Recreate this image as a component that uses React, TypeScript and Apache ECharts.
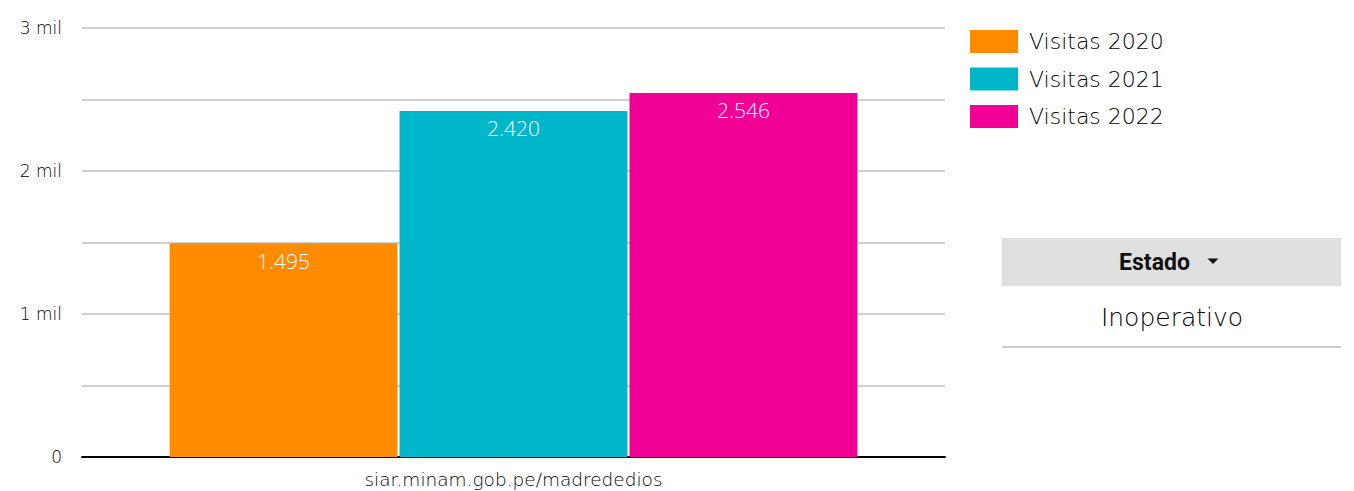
import React, { useEffect, useRef } from "react";
import * as echarts from "echarts";

const categories = ["siar.minam.gob.pe/madrededios"];
const seriesNames = ["Visitas 2020", "Visitas 2021", "Visitas 2022"];
const visitas2020 = [1495];
const visitas2021 = [2420];
const visitas2022 = [2546];
const seriesValues = [visitas2020, visitas2021, visitas2022];
const seriesColors = ["#ff8c00", "#00b6cb", "#f10096"];
const tableHeader = "Estado";
const tableValue = "Inoperativo";

const FONT = "'DejaVu Sans', 'Open Sans', sans-serif";
const NUMFONT = "'Open Sans', 'Noto Sans', sans-serif";

function fmtThousands(v: number): string {
  return String(Math.round(v)).replace(/\B(?=(\d{3})+(?!\d))/g, ".");
}

export default function App() {
  const ref = useRef<HTMLDivElement>(null);
  useEffect(() => {
    if (!ref.current) return;
    const chart = echarts.init(ref.current, null, { renderer: "svg" });
    chart.setOption({
      animation: false,
      backgroundColor: "#ffffff",
      textStyle: { fontFamily: FONT },
      grid: { left: 82, right: 409, top: 28, bottom: 34, containLabel: false },
      legend: {
        orient: "vertical",
        left: 965,
        top: 25,
        itemWidth: 48,
        itemHeight: 23,
        itemGap: 14.5,
        icon: "rect",
        data: seriesNames,
        textStyle: { fontSize: 22, lineHeight: 23, fontWeight: 200, color: "#000", fontFamily: FONT, padding: [0, 0, 0, 6] },
      },
      xAxis: {
        type: "category",
        data: categories,
        axisLine: { lineStyle: { color: "#000", width: 2 } },
        axisTick: { show: false },
        axisLabel: { fontSize: 18.5, fontWeight: 200, color: "#000", margin: 13, fontFamily: FONT },
      },
      yAxis: {
        type: "value",
        min: 0,
        max: 3000,
        interval: 500,
        axisLine: { show: false },
        axisTick: { show: false },
        splitLine: { lineStyle: { color: "#d0d0d0", width: 2 } },
        axisLabel: {
          fontSize: 17,
          fontWeight: 200,
          color: "#000",
          margin: 20,
          fontFamily: FONT,
          formatter: (v: number) => {
            if (v === 0) return "0";
            if (v % 1000 !== 0) return "";
            return v / 1000 + " mil";
          },
        },
      },
      series: seriesNames.map((name, i) => ({
        name,
        type: "bar",
        data: seriesValues[i],
        barCategoryGap: "20.3%",
        barGap: "0.9%",
        itemStyle: { color: seriesColors[i] },
        label: {
          show: true,
          position: "insideTop",
          distance: 7,
          color: "#fff",
          fontSize: 21,
          fontWeight: 300,
          fontFamily: NUMFONT,
          formatter: (p: any) => fmtThousands(p.value),
        },
      })),
      graphic: [
        {
          type: "rect",
          shape: { x: 1002, y: 238, width: 339, height: 48 },
          style: { fill: "#e0e0e0" },
        },
        {
          type: "text",
          x: 1154.5,
          y: 262,
          style: {
            text: tableHeader,
            fontFamily: "Roboto, sans-serif",
            fontWeight: "bold",
            fontSize: 23,
            fill: "#111",
            textAlign: "center",
            textVerticalAlign: "middle",
          },
        },
        {
          type: "polygon",
          shape: { points: [[1207.5, 258.5], [1218.5, 258.5], [1213, 264]] },
          style: { fill: "#111" },
        },
        {
          type: "text",
          x: 1172,
          y: 317,
          style: {
            text: tableValue,
            fontFamily: FONT,
            fontWeight: 200,
            fontSize: 25,
            fill: "#000",
            textAlign: "center",
            textVerticalAlign: "middle",
          },
        },
        {
          type: "line",
          shape: { x1: 1002, y1: 347, x2: 1341, y2: 347 },
          style: { stroke: "#cccccc", lineWidth: 2 },
        },
      ],
    });
    return () => chart.dispose();
  }, []);
  return (
    <div
      ref={ref}
      style={{ position: "fixed", left: 0, top: 0, width: 1354, height: 491 }}
    />
  );
}
